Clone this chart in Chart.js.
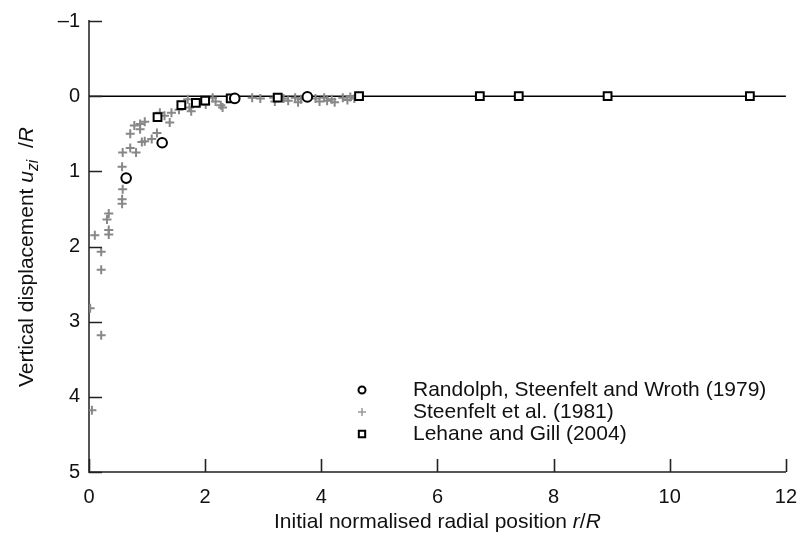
<!DOCTYPE html>
<html>
<head>
<meta charset="utf-8">
<script src="https://cdn.jsdelivr.net/npm/chart.js@4"></script>
<style>
  html, body { margin: 0; padding: 0; background: #fff; }
  #wrap { width: 810px; height: 538px; }
</style>
</head>
<body>
<div id="wrap"><canvas id="disp"></canvas></div>
<script>
// Randolph, Steenfelt and Wroth (1979)
const randolphX = [0.64, 1.26, 2.51, 3.76];
const randolphY = [1.09, 0.62, 0.03, 0.01];

// Steenfelt et al. (1981)
const steenfeltX = [0.02, 0.05, 0.10, 0.21, 0.21, 0.21, 0.31, 0.34, 0.34, 0.34,
  0.57, 0.58, 0.57, 0.57, 0.58, 0.71, 0.81, 0.71, 0.78, 0.88, 0.96, 0.88, 0.91,
  0.96, 1.08, 1.17, 1.22, 1.30, 1.39, 1.42, 1.55, 1.70, 1.73, 1.76, 2.01, 2.13,
  2.18, 2.27, 2.30, 2.81, 2.95, 3.20, 3.18, 3.35, 3.43, 3.55, 3.60, 3.65, 3.90,
  3.97, 4.05, 4.10, 4.18, 4.23, 4.37, 4.45, 4.50, 4.57];
const steenfeltY = [2.82, 4.18, 1.85, 2.07, 2.31, 3.18, 1.64, 1.56, 1.78, 1.84,
  0.94, 1.24, 1.37, 1.43, 0.75, 0.69, 0.75, 0.50, 0.39, 0.37, 0.34, 0.44, 0.61,
  0.60, 0.57, 0.49, 0.22, 0.26, 0.35, 0.22, 0.18, 0.04, 0.15, 0.20, 0.11, 0.02,
  0.07, 0.12, 0.15, 0.02, 0.03, 0.07, 0.02, 0.03, 0.06, 0.02, 0.08, 0.04, 0.03,
  0.07, 0.02, 0.06, 0.04, 0.08, 0.02, 0.05, 0.01, 0.03];

// Lehane and Gill (2004)
const lehaneX = [1.18, 1.59, 1.84, 2.00, 2.44, 3.25, 4.65, 6.73, 7.40, 8.93, 11.38];
const lehaneY = [0.28, 0.12, 0.09, 0.06, 0.03, 0.02, 0.00, 0.00, 0.00, 0.00, 0.00];

// reference line u = 0
const zeroLineX = [0, 12];
const zeroLineY = [0, 0];

const xTicks = [0, 2, 4, 6, 8, 10, 12];
const yTicks = [-1, 0, 1, 2, 3, 4, 5];

const FONT = '"Liberation Sans", Arial, Helvetica, sans-serif';

function pts(xs, ys) {
    return xs.map((x, i) => ({ x: x, y: ys[i] }));
}

// inward tick marks on both axes
const inwardTicks = {
    id: 'inwardTicks',
    afterDatasetsDraw(chart) {
        const ctx = chart.ctx;
        const xs = chart.scales.x, ys = chart.scales.y;
        const a = chart.chartArea;
        ctx.save();
        ctx.strokeStyle = '#222';
        ctx.lineWidth = 1.6;
        ctx.beginPath();
        for (const v of xTicks) {
            const px = Math.round(xs.getPixelForValue(v)) + 0.5;
            ctx.moveTo(px, a.bottom);
            ctx.lineTo(px, a.bottom - 13);
        }
        for (const v of yTicks) {
            const py = Math.round(ys.getPixelForValue(v)) + 0.5;
            ctx.moveTo(a.left, py);
            ctx.lineTo(a.left + 13, py);
        }
        ctx.stroke();
        ctx.restore();
    }
};

// draw a run of text pieces, some italic and some as subscripts
function drawRich(ctx, parts, size) {
    let w = 0;
    for (const p of parts) {
        ctx.font = (p.it ? 'italic ' : '') + (p.sub ? size * 0.75 : size) + 'px ' + FONT;
        p.w = ctx.measureText(p.t).width;
        w += p.w;
    }
    let x = -w / 2;
    for (const p of parts) {
        ctx.font = (p.it ? 'italic ' : '') + (p.sub ? size * 0.75 : size) + 'px ' + FONT;
        ctx.fillText(p.t, x, p.sub ? size * 0.3 : 0);
        x += p.w;
    }
}

const axisTitles = {
    id: 'axisTitles',
    afterDraw(chart) {
        const ctx = chart.ctx;
        const a = chart.chartArea;
        ctx.save();
        ctx.fillStyle = '#111';
        ctx.textBaseline = 'middle';
        ctx.textAlign = 'left';

        ctx.save();
        ctx.translate((a.left + a.right) / 2, 522);
        drawRich(ctx, [
            { t: 'Initial normalised radial position ' },
            { t: 'r', it: true },
            { t: '/' },
            { t: 'R', it: true }
        ], 21);
        ctx.restore();

        ctx.save();
        ctx.translate(27, 257);
        ctx.rotate(-Math.PI / 2);
        drawRich(ctx, [
            { t: 'Vertical displacement ' },
            { t: 'u', it: true },
            { t: 'zi', it: true, sub: true },
            { t: '  /' },
            { t: 'R', it: true }
        ], 21);
        ctx.restore();
        ctx.restore();
    }
};

// legend in the lower right of the plot
const legendBox = {
    id: 'legendBox',
    afterDraw(chart) {
        const ctx = chart.ctx;
        const rows = [
            { ds: 1, style: 'circle', r: 3.5, color: '#000', lw: 2 },
            { ds: 2, style: 'cross', r: 4, color: '#999', lw: 1.5 },
            { ds: 3, style: 'rect', r: 4.5, color: '#000', lw: 2 }
        ];
        ctx.save();
        rows.forEach((row, i) => {
            const y = 390 + i * 22;
            ctx.strokeStyle = row.color;
            ctx.fillStyle = '#fff';
            ctx.lineWidth = row.lw;
            Chart.helpers.drawPoint(ctx, { pointStyle: row.style, radius: row.r, rotation: 0, borderWidth: row.lw }, 362, y);
            ctx.fillStyle = '#111';
            ctx.font = '21px ' + FONT;
            ctx.textBaseline = 'middle';
            ctx.textAlign = 'left';
            ctx.fillText(chart.data.datasets[row.ds].label, 413, y);
        });
        ctx.restore();
    }
};

new Chart(document.getElementById('disp'), {
    type: 'scatter',
    data: {
        datasets: [
            {
                label: 'zero',
                type: 'line',
                data: pts(zeroLineX, zeroLineY),
                borderColor: '#000',
                borderWidth: 1.5,
                pointRadius: 0,
                order: 10
            },
            {
                label: 'Randolph, Steenfelt and Wroth (1979)',
                data: pts(randolphX, randolphY),
                pointStyle: 'circle',
                pointRadius: 4.8,
                borderColor: '#000',
                backgroundColor: '#fff',
                borderWidth: 2,
                order: 1
            },
            {
                label: 'Steenfelt et al. (1981)',
                data: pts(steenfeltX, steenfeltY),
                pointStyle: 'cross',
                pointRadius: 4.5,
                borderColor: '#888',
                backgroundColor: '#888',
                borderWidth: 2,
                order: 3
            },
            {
                label: 'Lehane and Gill (2004)',
                data: pts(lehaneX, lehaneY),
                pointStyle: 'rect',
                pointRadius: 5.5,
                borderColor: '#000',
                backgroundColor: '#fff',
                borderWidth: 2,
                order: 2
            }
        ]
    },
    options: {
        responsive: true,
        maintainAspectRatio: false,
        animation: false,
        layout: { padding: { left: 0, top: 16, right: 16, bottom: 0 } },
        plugins: {
            legend: { display: false },
            tooltip: { enabled: false }
        },
        scales: {
            x: {
                type: 'linear',
                min: 0,
                max: 12,
                afterFit: s => { s.height = 66; },
                afterBuildTicks: s => { s.ticks = xTicks.map(v => ({ value: v })); },
                grid: { display: false, drawTicks: false },
                border: { display: true, color: '#555', width: 2 },
                ticks: {
                    color: '#111',
                    padding: 13,
                    font: { family: FONT, size: 20 }
                }
            },
            y: {
                type: 'linear',
                reverse: true,
                min: -1,
                max: 5,
                afterFit: s => { s.width = 89; },
                afterBuildTicks: s => { s.ticks = yTicks.map(v => ({ value: v })); },
                grid: { display: false, drawTicks: false },
                border: { display: true, color: '#555', width: 2 },
                ticks: {
                    color: '#111',
                    padding: 9,
                    font: { family: FONT, size: 20 },
                    callback: v => v < 0 ? '\u2013' + Math.abs(v) : String(v)
                }
            }
        }
    },
    plugins: [inwardTicks, axisTitles, legendBox]
});
</script>
</body>
</html>
